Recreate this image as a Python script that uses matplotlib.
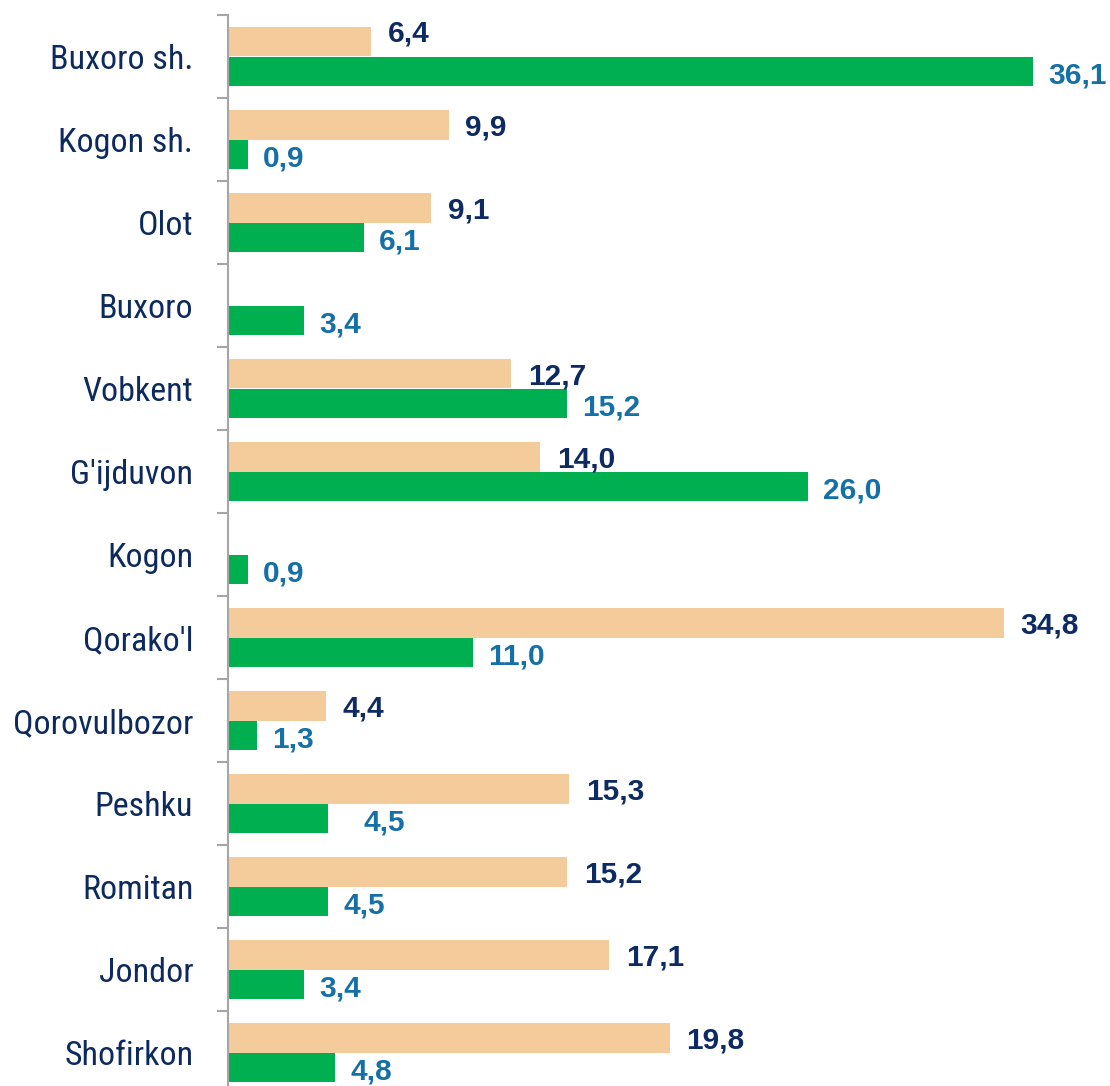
import matplotlib
matplotlib.use("Agg")
import matplotlib.pyplot as plt
from matplotlib import font_manager
import numpy as np

# Daten
categories = ["Buxoro sh.", "Kogon sh.", "Olot", "Buxoro", "Vobkent", "G'ijduvon", "Kogon",
              "Qorako'l", "Qorovulbozor", "Peshku", "Romitan", "Jondor", "Shofirkon"]
tan_values = [6.4, 9.9, 9.1, np.nan, 12.7, 14.0, np.nan, 34.8, 4.4, 15.3, 15.2, 17.1, 19.8]
green_values = [36.1, 0.9, 6.1, 3.4, 15.2, 26.0, 0.9, 11.0, 1.3, 4.5, 4.5, 3.4, 4.8]

# Farben
tan_color = '#F4CC9C'
green_color = '#00B050'
label_dark = '#0E2A63'
label_teal = '#1570A8'
cat_color = '#0D2A5E'

# Schrift fuer Kategorien: schmale Variante, falls vorhanden
available = {f.name for f in font_manager.fontManager.ttflist}
cat_font = 'Roboto'
for name in ['Roboto Condensed', 'Liberation Sans Narrow', 'Roboto']:
    if name in available:
        cat_font = name
        break
val_font = 'Liberation Sans' if 'Liberation Sans' in available else 'DejaVu Sans'

W, H = 1110, 1086
fig = plt.figure(figsize=(W / 100, H / 100), dpi=100)
# Achse oben bei y=15px, unten ausserhalb des Bildes (13 Kategorien a 83px)
ax_left, ax_top = 228, 15
ax_h = 13 * 83
ax_right = 1100
ax = fig.add_axes([ax_left / W, (H - ax_top - ax_h) / H, (ax_right - ax_left) / W, ax_h / H])

y = np.arange(len(categories))
bar_h = 0.36
ax.barh(y - bar_h / 2, tan_values, height=bar_h, color=tan_color)
ax.barh(y + bar_h / 2, green_values, height=bar_h, color=green_color)

px_per_unit = 22.3
ax.set_xlim(0, (ax_right - ax_left) / px_per_unit)
ax.set_ylim(len(categories) - 0.5, -0.5)

# Werte beschriften
for i, (t, g) in enumerate(zip(tan_values, green_values)):
    if not np.isnan(t):
        dy = 6 if i == 0 else -2
        ax.annotate(f"{t:.1f}".replace('.', ','), xy=(t, i - bar_h / 2), xytext=(12, dy),
                    textcoords='offset points', ha='left', va='center',
                    fontsize=21.5, fontweight='bold', color=label_dark, family=val_font)
    dx = 25 if categories[i] == 'Peshku' else 11
    ax.annotate(f"{g:.1f}".replace('.', ','), xy=(g, i + bar_h / 2), xytext=(dx, -3),
                textcoords='offset points', ha='left', va='center',
                fontsize=21.5, fontweight='bold', color=label_teal, family=val_font)

# Achseneigenschaften
for side in ['top', 'right', 'bottom']:
    ax.spines[side].set_visible(False)
ax.spines['left'].set_color('#A6A6A6')
ax.spines['left'].set_linewidth(1.5)
ax.set_xticks([])
ax.set_yticks(y)
ax.set_yticklabels(categories, fontsize=24.5, color=cat_color, family=cat_font)
ax.tick_params(axis='y', which='major', length=0, pad=25)
ax.set_yticks(np.arange(len(categories) + 1) - 0.5, minor=True)
ax.tick_params(axis='y', which='minor', length=8, width=1.5, color='#A6A6A6', direction='out')

fig.savefig('out.png', dpi=100)
